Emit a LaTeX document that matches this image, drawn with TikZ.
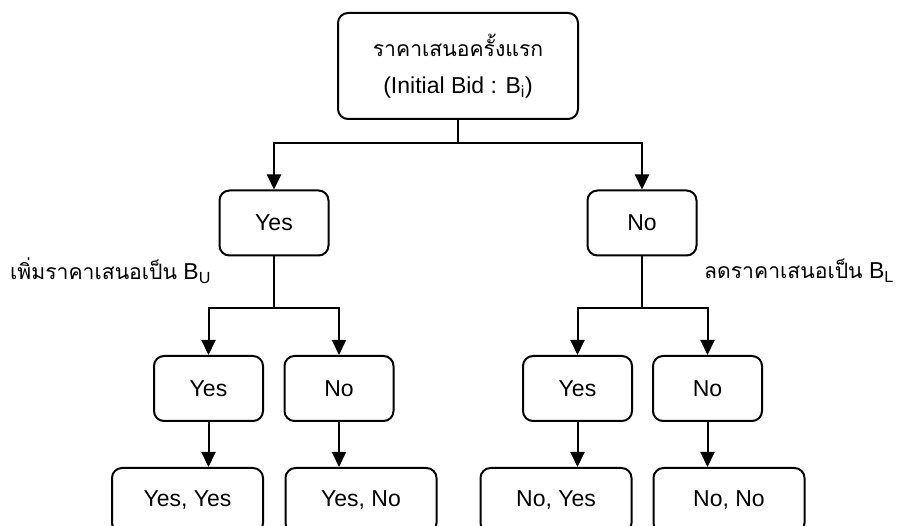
\documentclass[tikz,border=0pt]{standalone}
\usepackage{fontspec}
\setmainfont{Liberation Sans}
\newfontfamily\thaifont[Script=Thai,Scale=0.92]{Loma}
\usetikzlibrary{arrows.meta}
\tikzset{>={Triangle[length=15pt,width=14pt]},
  box/.style={draw,line width=2pt,rounded corners=10pt,minimum width=109pt,
    minimum height=65pt,inner sep=0pt,font=\fontsize{23}{27}\selectfont},
  wide/.style={box,minimum width=151pt},
  link/.style={line width=2pt},
  note/.style={inner sep=0pt,font=\fontsize{23}{27}\selectfont}}

\begin{document}
\begin{tikzpicture}[x=1pt,y=-1pt]
  \useasboundingbox (0,0) rectangle (900,526);
  \clip (0,0) rectangle (900,526);
  % first bid
  \node[box,minimum width=240pt,minimum height=106pt,align=center] at (458,66) (bid)
     {{\thaifont ราคาเสนอครั้งแรก}\\[10pt](Initial Bid : B\textsubscript{i})};
  % first answer
  \node[box] at (274,223) (yesA) {Yes};
  \node[box] at (642,223) (noA) {No};
  % second answer
  \node[box] at (208.5,388.5) (yesB) {Yes};
  \node[box] at (339,388.5) (noB) {No};
  \node[box] at (577.5,388.5) (yesC) {Yes};
  \node[box] at (707.5,388.5) (noC) {No};
  % outcomes
  \node[wide] at (187.5,500.5) (yesyes) {Yes, Yes};
  \node[wide] at (361,500.5) (yesno) {Yes, No};
  \node[wide] at (556,500.5) (noyes) {No, Yes};
  \node[wide] at (729,500.5) (nono) {No, No};
  % bid changes
  \node[note,anchor=west] at (10,271) (raise) {{\thaifont เพิ่มราคาเสนอเป็น} B\textsubscript{U}};
  \node[note,anchor=east] at (894,271) (lower) {{\thaifont ลดราคาเสนอเป็น} B\textsubscript{L}};
  % splits
  \coordinate (s1) at (458,143);
  \coordinate (s2) at (274,308);
  \coordinate (s3) at (642,308);
  \draw[link] (bid.south) -- (s1);
  \draw[link,->] (s1) -| (yesA.north);
  \draw[link,->] (s1) -| (noA.north);
  \draw[link] (yesA.south) -- (s2);
  \draw[link,->] (s2) -| (yesB.north);
  \draw[link,->] (s2) -| (noB.north);
  \draw[link] (noA.south) -- (s3);
  \draw[link,->] (s3) -| (yesC.north);
  \draw[link,->] (s3) -| (noC.north);
  \draw[link,->] (yesB.south) -- (yesB.south |- yesyes.north);
  \draw[link,->] (noB.south) -- (noB.south |- yesno.north);
  \draw[link,->] (yesC.south) -- (yesC.south |- noyes.north);
  \draw[link,->] (noC.south) -- (noC.south |- nono.north);
\end{tikzpicture}
\end{document}
